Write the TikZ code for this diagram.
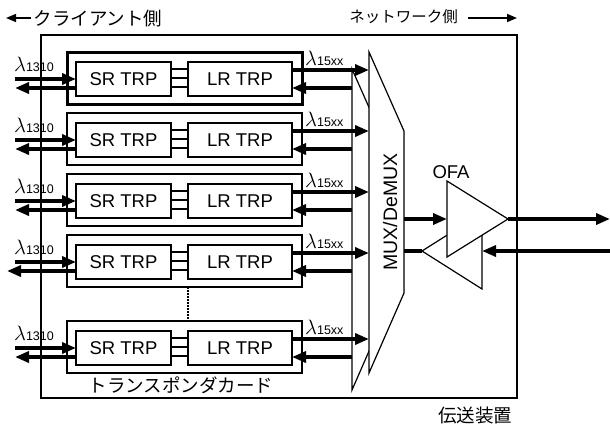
\documentclass[tikz,border=0pt]{standalone}
\usepackage{fontspec}
\setmainfont{Liberation Sans}
\newfontfamily\jpfont{Noto Sans CJK JP}
\usetikzlibrary{arrows.meta}
\newcommand\lamlbl[1]{{\fontsize{20}{20}\selectfont$\lambda$}{\fontsize{12.5}{13}\selectfont#1}}
\begin{document}
\begin{tikzpicture}[x=1pt,y=-1pt,
  box/.style={draw, line width=1.3pt, inner sep=0pt, outer sep=0pt, fill=white},
  trp/.style={box, minimum height=34pt, font=\fontsize{18.5}{20}\selectfont},
  arr/.style={line width=3.4pt, -{Triangle[length=14pt,width=11pt]}},
  harr/.style={line width=1.5pt, -{Triangle[length=10pt,width=8pt]}},
  thinline/.style={line width=1.2pt},
  shape3d/.style={draw, line width=1.2pt, fill=white, line join=miter},
  lbl/.style={inner sep=0pt, anchor=base west},
  jptext/.style={inner sep=0pt, anchor=base},
]
\useasboundingbox (0,0) rectangle (610,429);
% device frame
\node[draw, line width=1.3pt, minimum width=476pt, minimum height=363pt, inner sep=0pt] (dev) at (279,216.5) {};
% header labels
\node[jptext, font=\jpfont\fontsize{18.5}{20}\selectfont] (client) at (98,25) {クライアント側};
\node[jptext, font=\jpfont\fontsize{15.5}{18}\selectfont] (net) at (403.5,22.5) {ネットワーク側};
\coordinate (hl1) at (31,18); \coordinate (hl2) at (6,18);
\draw[harr] (hl1) -- (hl2);
\coordinate (hr1) at (468,18); \coordinate (hr2) at (517,18);
\draw[harr] (hr1) -- (hr2);
% MUX/DeMUX
\draw[shape3d] (352,69) -- (387,148) -- (387,310) -- (352,390) -- cycle;
\draw[shape3d] (369,52) -- (404,131) -- (404,293) -- (369,373) -- cycle;
\node[rotate=90, anchor=base, inner sep=0pt, font=\fontsize{19.5}{20}\selectfont] (mux) at (397,212) {MUX/DeMUX};
% OFA
\draw[shape3d] (482,213) -- (482,289) -- (422,251) -- cycle;
\draw[shape3d] (447,181) -- (447,257) -- (508,219) -- cycle;
\node[jptext, font=\fontsize{18.5}{20}\selectfont] (ofa) at (451,178) {OFA};
\coordinate (muxR1) at (404,219); \coordinate (ofaIn) at (447,219);
\coordinate (ofaTip) at (508,219); \coordinate (outR) at (610,219);
\coordinate (inR) at (610,251); \coordinate (ofaB) at (482,251);
\coordinate (ofaBtip) at (422,251); \coordinate (muxR2) at (404,251);
\draw[arr] (muxR1) -- (ofaIn);
\draw[arr] (ofaTip) -- (outR);
\draw[arr] (inR) -- (ofaB);
\draw[line width=3.4pt] (ofaBtip) -- (muxR2);
% transponder cards
\foreach \t [count=\i] in {52,113,174,235,321} {
  \pgfmathsetmacro\xo{\i==4 ? 7 : 15}
  \pgfmathsetmacro\cy{\t+26}
  \pgfmathsetmacro\by{\t+27}
  \node[box, minimum width=235pt, minimum height=52pt] (card\i) at (184.5,\cy) {};
  \node[trp, minimum width=95pt] (sr\i) at (123.5,\by) {SR TRP};
  \node[trp, minimum width=104pt] (lr\i) at (240,\by) {LR TRP};
  \foreach \d in {17,26,35} {
    \pgfmathsetmacro\ya{\t+\d}
    \draw[thinline] (sr\i.east |- 0,\ya) -- (lr\i.west |- 0,\ya);
  }
  \pgfmathsetmacro\yin{\t+27}
  \pgfmathsetmacro\yout{\t+36}
  \pgfmathsetmacro\ynet{\t+18}
  \coordinate (cin\i) at (15,\yin);
  \coordinate (cout\i) at (\xo,\yout);
  \coordinate (nout\i) at (369,\ynet);
  \coordinate (nin\i) at (352,\yout);
  \draw[arr] (cin\i) -- (sr\i.west |- cin\i);
  \draw[arr] (sr\i.west |- cout\i) -- (cout\i);
  \draw[arr] (lr\i.east |- nout\i) -- (nout\i);
  \draw[arr] (nin\i) -- (lr\i.east |- nin\i);
  \pgfmathsetmacro\yl{\t+19}
  \pgfmathsetmacro\yr{\t+13.5}
  \node[lbl] (ll\i) at (14,\yl) {\lamlbl{1310}};
  \node[lbl] (rl\i) at (305,\yr) {\lamlbl{15xx}};
}
% thick border of the first card
\draw[line width=3pt] (67,52) -- (302,52) -- (302,104) -- (67,104) -- cycle;
\draw[thinline, dash pattern=on 1.5pt off 1.5pt] (lr4.west |- card4.south) -- (lr5.west |- card5.north);
\node[jptext, font=\jpfont\fontsize{18.5}{20}\selectfont] (cardlbl) at (181,392) {トランスポンダカード};
\node[jptext, font=\jpfont\fontsize{18.5}{20}\selectfont] (devlbl) at (475,422.5) {伝送装置};
\end{tikzpicture}
\end{document}
